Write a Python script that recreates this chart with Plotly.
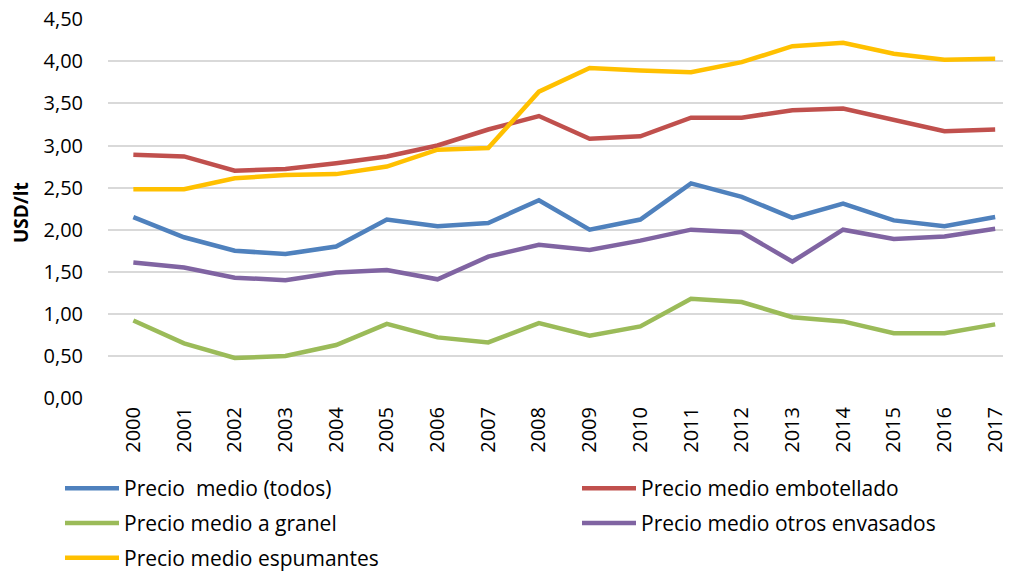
import plotly.graph_objects as go

years = [str(y) for y in range(2000, 2018)]
todos = [2.15, 1.91, 1.75, 1.71, 1.80, 2.12, 2.04, 2.08, 2.35, 2.00, 2.12, 2.55, 2.39, 2.14, 2.31, 2.11, 2.04, 2.15]
embotellado = [2.89, 2.87, 2.70, 2.72, 2.79, 2.87, 3.00, 3.19, 3.35, 3.08, 3.11, 3.33, 3.33, 3.42, 3.44, 3.30, 3.17, 3.19]
granel = [0.92, 0.65, 0.475, 0.50, 0.63, 0.88, 0.72, 0.66, 0.89, 0.74, 0.85, 1.18, 1.14, 0.96, 0.91, 0.77, 0.77, 0.875]
otros = [1.61, 1.55, 1.43, 1.40, 1.49, 1.52, 1.41, 1.68, 1.82, 1.76, 1.87, 2.00, 1.97, 1.62, 2.00, 1.89, 1.92, 2.01]
espumantes = [2.48, 2.48, 2.61, 2.65, 2.66, 2.75, 2.95, 2.97, 3.64, 3.92, 3.89, 3.87, 3.99, 4.18, 4.22, 4.09, 4.02, 4.03]

# (name, values, colour, legend id)
series = [
    ("Precio\u00a0 medio (todos)", todos, "#4f81bd", "legend"),
    ("Precio medio embotellado", embotellado, "#c0504d", "legend2"),
    ("Precio medio a granel", granel, "#9bbb59", "legend"),
    ("Precio medio otros envasados", otros, "#8064a2", "legend2"),
    ("Precio medio espumantes", espumantes, "#ffc000", "legend"),
]

yticks = [i * 0.5 for i in range(10)]
yticktext = [f"{v:.2f}".replace(".", ",") for v in yticks]

FONT = "Open Sans, sans-serif"
W, H = 1011, 571
L, T, B = 100, 11, 181
plot_w = W - L
plot_h = H - T - B

fig = go.Figure()
for i, (name, vals, col, leg) in enumerate(series):
    fig.add_trace(go.Scatter(x=list(range(len(years))), y=vals, name=name, mode="lines",
                             line=dict(color=col, width=4.5), legend=leg,
                             legendgroup=f"g{i}"))

legend_common = dict(orientation="v", xref="container", yref="container",
                     xanchor="left", yanchor="top", tracegroupgap=4.5,
                     font=dict(family=FONT, size=21, color="#000000"),
                     itemwidth=54, bgcolor="rgba(0,0,0,0)", borderwidth=0)

fig.update_layout(
    width=W, height=H,
    margin=dict(l=L, r=0, t=T, b=B, autoexpand=False),
    paper_bgcolor="white", plot_bgcolor="white",
    font=dict(family=FONT, size=20, color="#000000"),
    showlegend=True,
    legend=dict(x=52 / W, y=1 - 460 / H, **legend_common),
    legend2=dict(x=569 / W, y=1 - 460 / H, **legend_common),
    xaxis=dict(range=[-0.5, 17.47], tickmode="array", tickvals=list(range(len(years))),
               ticktext=years, tickangle=-90, showgrid=False, zeroline=False,
               showline=False, ticks="", tickfont=dict(size=20), ticklabelstandoff=4),
    yaxis=dict(range=[0, 4.503], tickmode="array", tickvals=yticks, ticktext=yticktext,
               showgrid=True, gridcolor="#d9d9d9", gridwidth=1.5, zeroline=False,
               tickfont=dict(size=20), ticklabelstandoff=24, ticklabeloverflow="allow"),
    annotations=[dict(text="<b>USD/lt</b>", textangle=-90, showarrow=False,
                      xref="paper", yref="paper",
                      x=(13 - L) / plot_w, y=(T + plot_h - 205) / plot_h,
                      xanchor="center", yanchor="middle",
                      font=dict(family=FONT, size=19, color="#000000"))],
)

fig.write_html("out.html")
